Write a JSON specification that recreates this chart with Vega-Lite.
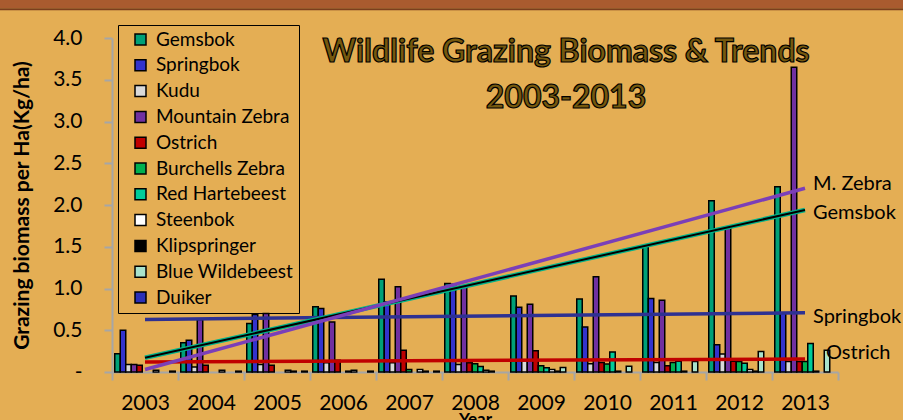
{
  "$schema": "https://vega.github.io/schema/vega-lite/v6.json",
  "width": 726,
  "height": 334,
  "autosize": {"type": "none"},
  "padding": {"left": 112, "top": 38, "right": 65, "bottom": 48},
  "background": "#E4AE54",
  "config": {"view": {"stroke": null}, "font": "Lato", "axis": {"labelFont": "Lato", "titleFont": "Lato"}, "legend": {"labelFont": "Lato"}},
  "datasets": {
    "bars": [
      {"year": "2003", "species": "Gemsbok", "value": 0.22},
      {"year": "2003", "species": "Springbok", "value": 0.50},
      {"year": "2003", "species": "Kudu", "value": 0.09},
      {"year": "2003", "species": "Mountain Zebra", "value": 0.09},
      {"year": "2003", "species": "Ostrich", "value": 0.08},
      {"year": "2003", "species": "Steenbok", "value": 0.02},
      {"year": "2003", "species": "Duiker", "value": 0.01},
      {"year": "2004", "species": "Gemsbok", "value": 0.35},
      {"year": "2004", "species": "Springbok", "value": 0.38},
      {"year": "2004", "species": "Kudu", "value": 0.06},
      {"year": "2004", "species": "Mountain Zebra", "value": 0.63},
      {"year": "2004", "species": "Ostrich", "value": 0.08},
      {"year": "2004", "species": "Steenbok", "value": 0.02},
      {"year": "2004", "species": "Duiker", "value": 0.01},
      {"year": "2005", "species": "Gemsbok", "value": 0.58},
      {"year": "2005", "species": "Springbok", "value": 0.69},
      {"year": "2005", "species": "Kudu", "value": 0.09},
      {"year": "2005", "species": "Mountain Zebra", "value": 0.70},
      {"year": "2005", "species": "Ostrich", "value": 0.08},
      {"year": "2005", "species": "Steenbok", "value": 0.02},
      {"year": "2005", "species": "Klipspringer", "value": 0.01},
      {"year": "2005", "species": "Duiker", "value": 0.01},
      {"year": "2006", "species": "Gemsbok", "value": 0.78},
      {"year": "2006", "species": "Springbok", "value": 0.76},
      {"year": "2006", "species": "Kudu", "value": 0.11},
      {"year": "2006", "species": "Mountain Zebra", "value": 0.60},
      {"year": "2006", "species": "Ostrich", "value": 0.14},
      {"year": "2006", "species": "Red Hartebeest", "value": 0.01},
      {"year": "2006", "species": "Steenbok", "value": 0.02},
      {"year": "2006", "species": "Duiker", "value": 0.01},
      {"year": "2007", "species": "Gemsbok", "value": 1.11},
      {"year": "2007", "species": "Springbok", "value": 0.84},
      {"year": "2007", "species": "Kudu", "value": 0.11},
      {"year": "2007", "species": "Mountain Zebra", "value": 1.02},
      {"year": "2007", "species": "Ostrich", "value": 0.26},
      {"year": "2007", "species": "Burchells Zebra", "value": 0.03},
      {"year": "2007", "species": "Steenbok", "value": 0.03},
      {"year": "2007", "species": "Klipspringer", "value": 0.01},
      {"year": "2007", "species": "Duiker", "value": 0.01},
      {"year": "2008", "species": "Gemsbok", "value": 1.06},
      {"year": "2008", "species": "Springbok", "value": 1.05},
      {"year": "2008", "species": "Kudu", "value": 0.09},
      {"year": "2008", "species": "Mountain Zebra", "value": 1.03},
      {"year": "2008", "species": "Ostrich", "value": 0.11},
      {"year": "2008", "species": "Burchells Zebra", "value": 0.10},
      {"year": "2008", "species": "Red Hartebeest", "value": 0.065},
      {"year": "2008", "species": "Steenbok", "value": 0.02},
      {"year": "2008", "species": "Klipspringer", "value": 0.01},
      {"year": "2009", "species": "Gemsbok", "value": 0.91},
      {"year": "2009", "species": "Springbok", "value": 0.775},
      {"year": "2009", "species": "Kudu", "value": 0.135},
      {"year": "2009", "species": "Mountain Zebra", "value": 0.81},
      {"year": "2009", "species": "Ostrich", "value": 0.255},
      {"year": "2009", "species": "Burchells Zebra", "value": 0.075},
      {"year": "2009", "species": "Red Hartebeest", "value": 0.05},
      {"year": "2009", "species": "Steenbok", "value": 0.03},
      {"year": "2009", "species": "Klipspringer", "value": 0.01},
      {"year": "2009", "species": "Blue Wildebeest", "value": 0.055},
      {"year": "2010", "species": "Gemsbok", "value": 0.875},
      {"year": "2010", "species": "Springbok", "value": 0.54},
      {"year": "2010", "species": "Kudu", "value": 0.10},
      {"year": "2010", "species": "Mountain Zebra", "value": 1.14},
      {"year": "2010", "species": "Ostrich", "value": 0.115},
      {"year": "2010", "species": "Burchells Zebra", "value": 0.095},
      {"year": "2010", "species": "Red Hartebeest", "value": 0.24},
      {"year": "2010", "species": "Steenbok", "value": 0.01},
      {"year": "2010", "species": "Blue Wildebeest", "value": 0.07},
      {"year": "2011", "species": "Gemsbok", "value": 1.50},
      {"year": "2011", "species": "Springbok", "value": 0.88},
      {"year": "2011", "species": "Kudu", "value": 0.115},
      {"year": "2011", "species": "Mountain Zebra", "value": 0.86},
      {"year": "2011", "species": "Ostrich", "value": 0.075},
      {"year": "2011", "species": "Burchells Zebra", "value": 0.115},
      {"year": "2011", "species": "Red Hartebeest", "value": 0.13},
      {"year": "2011", "species": "Steenbok", "value": 0.01},
      {"year": "2011", "species": "Blue Wildebeest", "value": 0.125},
      {"year": "2012", "species": "Gemsbok", "value": 2.05},
      {"year": "2012", "species": "Springbok", "value": 0.325},
      {"year": "2012", "species": "Kudu", "value": 0.215},
      {"year": "2012", "species": "Mountain Zebra", "value": 1.73},
      {"year": "2012", "species": "Ostrich", "value": 0.13},
      {"year": "2012", "species": "Burchells Zebra", "value": 0.125},
      {"year": "2012", "species": "Red Hartebeest", "value": 0.105},
      {"year": "2012", "species": "Steenbok", "value": 0.03},
      {"year": "2012", "species": "Klipspringer", "value": 0.01},
      {"year": "2012", "species": "Blue Wildebeest", "value": 0.245},
      {"year": "2013", "species": "Gemsbok", "value": 2.22},
      {"year": "2013", "species": "Springbok", "value": 0.71},
      {"year": "2013", "species": "Kudu", "value": 0.125},
      {"year": "2013", "species": "Mountain Zebra", "value": 3.65},
      {"year": "2013", "species": "Ostrich", "value": 0.125},
      {"year": "2013", "species": "Burchells Zebra", "value": 0.125},
      {"year": "2013", "species": "Red Hartebeest", "value": 0.34},
      {"year": "2013", "species": "Steenbok", "value": 0.01},
      {"year": "2013", "species": "Blue Wildebeest", "value": 0.26}
    ],
    "trends": [
      {"series": "Gemsbok", "year": "2003", "value": 0.17},
      {"series": "Gemsbok", "year": "2013", "value": 1.94},
      {"series": "M. Zebra", "year": "2003", "value": 0.03},
      {"series": "M. Zebra", "year": "2013", "value": 2.20},
      {"series": "Springbok", "year": "2003", "value": 0.63},
      {"series": "Springbok", "year": "2013", "value": 0.71},
      {"series": "Ostrich", "year": "2003", "value": 0.12},
      {"series": "Ostrich", "year": "2013", "value": 0.155}
    ],
    "labels": [
      {"label": "M. Zebra", "year": "2013", "value": 2.25},
      {"label": "Gemsbok", "year": "2013", "value": 1.90},
      {"label": "Springbok", "year": "2013", "value": 0.655},
      {"label": "Ostrich", "year": "2013", "value": 0.23}
    ],
    "titleLines": [
      {"line": "Wildlife Grazing Biomass & Trends", "year": "2008", "value": 3.71},
      {"line": "2003-2013", "year": "2008", "value": 3.16}
    ]
  },
  "layer": [
    {
      "layer": [
        {
          "data": {"name": "bars"},
          "mark": {"type": "bar", "stroke": "black", "strokeWidth": 1.5},
          "encoding": {
            "x": {
              "field": "year", "type": "nominal",
              "scale": {"domain": ["2003","2004","2005","2006","2007","2008","2009","2010","2011","2012","2013"], "paddingInner": 0, "paddingOuter": 0},
              "axis": {"orient": "bottom", "title": "Year", "labelAngle": 0, "labelFontSize": 21, "labelColor": "black", "titleFontSize": 17, "titleFontWeight": "bold", "titleColor": "black", "titlePadding": -2, "labelPadding": 12, "domainColor": "#A6A6A6", "domainWidth": 2, "tickColor": "#A6A6A6", "tickWidth": 2, "tickSize": 8, "tickBand": "extent"}
            },
            "xOffset": {
              "field": "species", "type": "nominal",
              "scale": {"domain": ["Gemsbok","Springbok","Kudu","Mountain Zebra","Ostrich","Burchells Zebra","Red Hartebeest","Steenbok","Klipspringer","Blue Wildebeest","Duiker"], "paddingInner": 0, "paddingOuter": 0.5}
            },
            "y": {
              "field": "value", "type": "quantitative",
              "scale": {"domain": [0, 4], "nice": false},
              "axis": {"orient": "left", "title": "Grazing biomass per Ha(Kg/ha)", "values": [0,0.5,1,1.5,2,2.5,3,3.5,4], "labelExpr": "datum.value == 0 ? '-' : format(datum.value, '.1f')", "labelFontSize": 21, "labelColor": "black", "labelPadding": 22, "tickSize": 8, "tickColor": "#A6A6A6", "tickWidth": 2, "domainColor": "#A6A6A6", "domainWidth": 2, "grid": false, "titleFontSize": 21, "titleFontWeight": "bold", "titleColor": "black", "titlePadding": 20}
            },
            "color": {
              "field": "species", "type": "nominal",
              "scale": {
                "domain": ["Gemsbok","Springbok","Kudu","Mountain Zebra","Ostrich","Burchells Zebra","Red Hartebeest","Steenbok","Klipspringer","Blue Wildebeest","Duiker"],
                "range": ["#00A077","#3333CC","#D9D9D9","#7030A0","#C00000","#00B050","#00CC99","#FFFFFF","#000000","#A8E2CC","#2B30B8"]
              },
              "legend": {"orient": "none", "legendX": 6, "legendY": -13, "title": null, "symbolType": "square", "symbolSize": 121, "symbolStrokeColor": "black", "symbolStrokeWidth": 1.5, "symbolOpacity": 1, "labelFontSize": 19, "labelColor": "black", "labelOffset": 6, "symbolOffset": 8, "rowPadding": 5.8, "padding": 5, "strokeColor": "black"}
            }
          }
        },
        {
          "data": {"name": "trends"},
          "transform": [{"filter": "datum.series == 'Ostrich'"}],
          "mark": {"type": "line", "color": "#C00000", "strokeWidth": 3.5},
          "encoding": {"x": {"field": "year", "type": "nominal"}, "y": {"field": "value", "type": "quantitative"}}
        },
        {
          "data": {"name": "trends"},
          "transform": [{"filter": "datum.series == 'Springbok'"}],
          "mark": {"type": "line", "color": "#2E3192", "strokeWidth": 3.5},
          "encoding": {"x": {"field": "year", "type": "nominal"}, "y": {"field": "value", "type": "quantitative"}}
        },
        {
          "data": {"name": "trends"},
          "transform": [{"filter": "datum.series == 'Gemsbok'"}],
          "mark": {"type": "line", "color": "#00B38A", "strokeWidth": 4.5},
          "encoding": {"x": {"field": "year", "type": "nominal"}, "y": {"field": "value", "type": "quantitative"}}
        },
        {
          "data": {"name": "trends"},
          "transform": [{"filter": "datum.series == 'Gemsbok'"}],
          "mark": {"type": "line", "color": "#000000", "strokeWidth": 2},
          "encoding": {"x": {"field": "year", "type": "nominal"}, "y": {"field": "value", "type": "quantitative"}}
        },
        {
          "data": {"name": "trends"},
          "transform": [{"filter": "datum.series == 'M. Zebra'"}],
          "mark": {"type": "line", "color": "#7B3FB8", "strokeWidth": 3.5},
          "encoding": {"x": {"field": "year", "type": "nominal"}, "y": {"field": "value", "type": "quantitative"}}
        },
        {
          "data": {"name": "labels"},
          "transform": [{"filter": "datum.label != 'Ostrich'"}],
          "mark": {"type": "text", "align": "left", "baseline": "middle", "dx": 8, "fontSize": 20, "color": "black"},
          "encoding": {"x": {"field": "year", "type": "nominal"}, "y": {"field": "value", "type": "quantitative"}, "text": {"field": "label"}}
        },
        {
          "data": {"name": "labels"},
          "transform": [{"filter": "datum.label == 'Ostrich'"}],
          "mark": {"type": "text", "align": "left", "baseline": "middle", "dx": 21, "fontSize": 20, "color": "black"},
          "encoding": {"x": {"field": "year", "type": "nominal"}, "y": {"field": "value", "type": "quantitative"}, "text": {"field": "label"}}
        },
        {
          "data": {"name": "titleLines"},
          "mark": {"type": "text", "align": "center", "baseline": "alphabetic", "dx": 91, "fontSize": 32, "fontWeight": "bold", "fill": "#76590E", "stroke": "black", "strokeWidth": 1.2},
          "encoding": {"x": {"field": "year", "type": "nominal"}, "y": {"field": "value", "type": "quantitative"}, "text": {"field": "line"}}
        }
      ]
    },
    {
      "data": {"values": [{"part": "header"}]},
      "layer": [
        {
          "mark": {"type": "rect", "color": "#A95B2F"},
          "encoding": {
            "x": {"datum": -0.16, "type": "quantitative", "scale": {"domain": [0, 1]}, "axis": null},
            "x2": {"datum": 1.1},
            "y": {"datum": 4.36, "type": "quantitative", "scale": {"domain": [0, 4], "nice": false}, "axis": null},
            "y2": {"datum": 4.5}
          }
        },
        {
          "mark": {"type": "rule", "color": "#7A3E1C", "strokeWidth": 2},
          "encoding": {
            "x": {"datum": -0.16, "type": "quantitative"},
            "x2": {"datum": 1.1},
            "y": {"datum": 4.345, "type": "quantitative"}
          }
        }
      ]
    }
  ],
  "resolve": {"scale": {"x": "independent", "y": "independent"}}
}
